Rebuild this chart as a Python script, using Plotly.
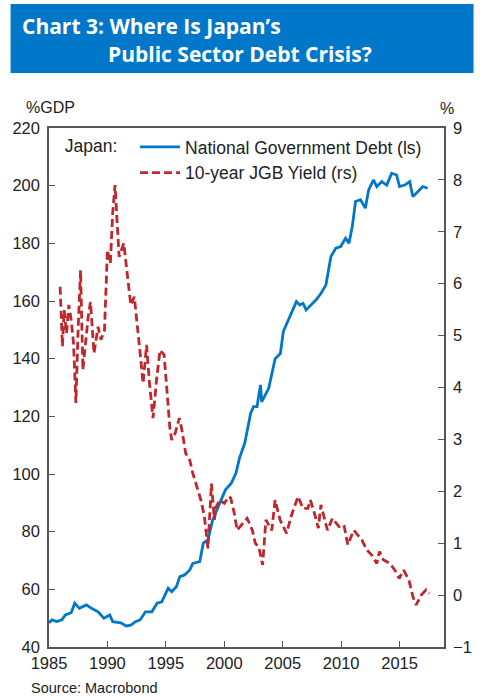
import plotly.graph_objects as go

# National government debt, % of GDP (left scale)
debt_years = [1985.0, 1985.25, 1985.67, 1986.1, 1986.4, 1986.9, 1987.2, 1987.6, 1988.2, 1988.6,
              1989.2, 1989.7, 1990.2, 1990.45, 1991.15, 1991.6, 1992.0, 1992.4, 1992.8, 1993.25,
              1993.8, 1994.25, 1994.65, 1995.2, 1995.5, 1995.9, 1996.2, 1996.6, 1997.05, 1997.3,
              1997.9, 1998.2, 1998.6, 1999.0, 1999.6, 2000.1, 2000.6, 2001.0, 2001.3, 2001.75,
              2002.25, 2002.5, 2002.8, 2003.1, 2003.2, 2003.8, 2004.35, 2004.8, 2005.05, 2005.47,
              2006.17, 2006.45, 2006.74, 2007.0, 2007.44, 2007.86, 2008.28, 2008.7, 2009.12, 2009.54,
              2009.96, 2010.38, 2010.67, 2010.95, 2011.23, 2011.65, 2012.07, 2012.35, 2012.77, 2013.05,
              2013.47, 2013.9, 2014.32, 2014.74, 2015.0, 2015.44, 2015.86, 2016.14, 2016.56, 2016.98,
              2017.4]
debt_values = [48.4, 49.4, 48.8, 49.4, 51.1, 51.9, 55.2, 53.4, 54.6, 53.5,
               52.2, 50.0, 51.1, 48.8, 48.4, 47.3, 47.6, 48.8, 49.4, 52.2,
               52.2, 55.2, 55.7, 60.4, 59.2, 60.9, 64.4, 65.0, 66.7, 69.0,
               69.6, 76.0, 77.1, 84.0, 89.8, 94.5, 96.8, 100.3, 105.5, 110.7,
               121.0, 123.4, 123.4, 130.9, 125.0, 129.7, 140.0, 141.8, 149.4, 153.4,
               159.8, 158.6, 159.2, 156.9, 158.6, 160.4, 162.7, 165.6, 175.4, 178.3,
               178.9, 181.8, 180.0, 185.8, 194.5, 195.1, 192.2, 198.5, 202.0, 199.7,
               201.4, 200.2, 204.3, 203.7, 199.7, 200.2, 201.4, 196.2, 197.9, 199.7,
               199.1]

# 10-year JGB yield, % (right scale)
jgb_years = [1985.95, 1986.15, 1986.3, 1986.5, 1986.7, 1986.9, 1987.1, 1987.3, 1987.5, 1987.7,
             1987.9, 1988.2, 1988.35, 1988.55, 1988.85, 1989.2, 1989.45, 1989.75, 1990.0, 1990.25,
             1990.45, 1990.65, 1990.8, 1991.0, 1991.4, 1991.7, 1992.0, 1992.3, 1992.5, 1992.8,
             1993.05, 1993.35, 1993.6, 1993.9, 1994.2, 1994.5, 1994.85, 1995.1, 1995.35, 1995.5,
             1995.8, 1996.15, 1996.35, 1996.7, 1997.05, 1997.3, 1997.75, 1998.0, 1998.3, 1998.6,
             1998.9, 1999.15, 1999.3, 1999.6, 2000.0, 2000.4, 2000.55, 2000.85, 2001.1, 2001.5,
             2001.95, 2002.4, 2002.65, 2002.95, 2003.28, 2003.56, 2004.06, 2004.35, 2004.77, 2005.33,
             2005.75, 2006.31, 2006.73, 2007.15, 2007.37, 2007.71, 2008.05, 2008.27, 2008.83, 2009.25,
             2009.82, 2010.24, 2010.57, 2011.08, 2011.78, 2012.2, 2012.62, 2013.05, 2013.28, 2013.6,
             2014.17, 2014.6, 2014.96, 2015.35, 2015.8, 2016.14, 2016.42, 2016.85, 2017.27, 2017.55]
jgb_values = [5.94, 4.79, 5.49, 5.04, 5.59, 5.30, 4.85, 3.70, 5.17, 6.26,
              4.34, 5.04, 5.36, 5.65, 4.66, 5.17, 4.92, 5.11, 6.65, 6.39,
              7.36, 7.90, 7.36, 6.52, 6.78, 6.13, 5.59, 5.75, 5.36, 4.66,
              4.08, 4.82, 4.08, 3.41, 4.14, 4.72, 4.63, 3.82, 3.20, 2.99,
              3.12, 3.41, 3.21, 2.73, 2.60, 2.35, 1.99, 1.83, 1.51, 0.90,
              2.15, 1.45, 1.70, 1.83, 1.77, 1.90, 1.87, 1.58, 1.25, 1.35,
              1.48, 1.25, 1.00, 0.93, 0.58, 1.45, 1.25, 1.83, 1.45, 1.19,
              1.54, 1.90, 1.67, 1.67, 1.83, 1.58, 1.29, 1.74, 1.25, 1.48,
              1.32, 1.35, 0.97, 1.25, 1.06, 0.87, 0.77, 0.61, 0.84, 0.68,
              0.61, 0.48, 0.32, 0.48, 0.29, -0.03, -0.19, 0.00, 0.10, 0.03]

BLUE = "#0077C8"
RED = "#C0272D"
AXIS = "#555555"

W, H = 484, 697
L, R, T, B = 47, 448, 128, 647   # plot area in pixels


def px(x):
    return (x - L) / (R - L)


def py(y):
    return (B - y) / (B - T)


fig = go.Figure()
fig.add_trace(go.Scatter(x=debt_years, y=debt_values, mode="lines",
                         name="National Government Debt (ls)",
                         line=dict(color=BLUE, width=2.8)))
fig.add_trace(go.Scatter(x=jgb_years, y=jgb_values, mode="lines", yaxis="y2",
                         name="10-year JGB Yield (rs)",
                         line=dict(color=RED, width=2.8, dash="8px,4px")))

tickfont = dict(family="Liberation Sans, Arial", size=16.5, color="#222")

fig.update_layout(
    width=W, height=H,
    margin=dict(l=L, r=W - R, t=T, b=H - B),
    paper_bgcolor="white", plot_bgcolor="white",
    font=dict(family="Liberation Sans, Arial", size=16, color="#222"),
    xaxis=dict(range=[1985, 2018.8], tickvals=[1985, 1990, 1995, 2000, 2005, 2010, 2015],
               ticks="inside", ticklen=6, tickcolor=AXIS, showgrid=False, zeroline=False,
               showline=True, linecolor=AXIS, linewidth=1.5, mirror=True,
               tickfont=tickfont),
    yaxis=dict(range=[40, 220], dtick=20, ticks="inside", ticklen=6, tickcolor=AXIS,
               showgrid=False, zeroline=False, showline=True, linecolor=AXIS,
               linewidth=1.5, tickfont=tickfont, ticklabelstandoff=4),
    yaxis2=dict(range=[-1, 9], dtick=1, overlaying="y", side="right", ticks="inside",
                ticklen=6, tickcolor=AXIS, showgrid=False, zeroline=False, showline=True,
                linecolor=AXIS, linewidth=1.5, tickfont=tickfont, ticklabelstandoff=4),
    legend=dict(x=px(61), y=py(129), xanchor="left", yanchor="top",
                bgcolor="rgba(0,0,0,0)", itemwidth=40,
                title=dict(text="Japan:&nbsp;&nbsp;", side="left", font=dict(size=17.5)),
                font=dict(size=17.5, color="#222")),
    showlegend=True,
)

# header banner
fig.add_shape(type="rect", xref="paper", yref="paper",
              x0=px(8), x1=px(478), y0=py(73), y1=py(4),
              fillcolor=BLUE, line=dict(width=0), layer="below")
fig.add_annotation(text="<b>Chart 3: Where Is Japan’s</b>", xref="paper", yref="paper",
                   x=px(18), y=py(26), xanchor="left", yanchor="middle", showarrow=False,
                   font=dict(family="Open Sans", size=21, color="white"))
fig.add_annotation(text="<b>Public Sector Debt Crisis?</b>", xref="paper", yref="paper",
                   x=px(105), y=py(54), xanchor="left", yanchor="middle", showarrow=False,
                   font=dict(family="Open Sans", size=21, color="white"))

# axis units and source
fig.add_annotation(text="%GDP", xref="paper", yref="paper", x=px(22), y=py(107),
                   xanchor="left", yanchor="middle", showarrow=False, font=dict(size=16))
fig.add_annotation(text="%", xref="paper", yref="paper", x=px(451), y=py(108),
                   xanchor="center", yanchor="middle", showarrow=False, font=dict(size=16))
fig.add_annotation(text="Source: Macrobond", xref="paper", yref="paper", x=px(27), y=py(688),
                   xanchor="left", yanchor="middle", showarrow=False, font=dict(size=14.5))

# the page's default 8px body margin would push the figure off the window
fig.write_html("out.html", config={"displayModeBar": False},
               post_script="document.body.style.margin='0px';")
